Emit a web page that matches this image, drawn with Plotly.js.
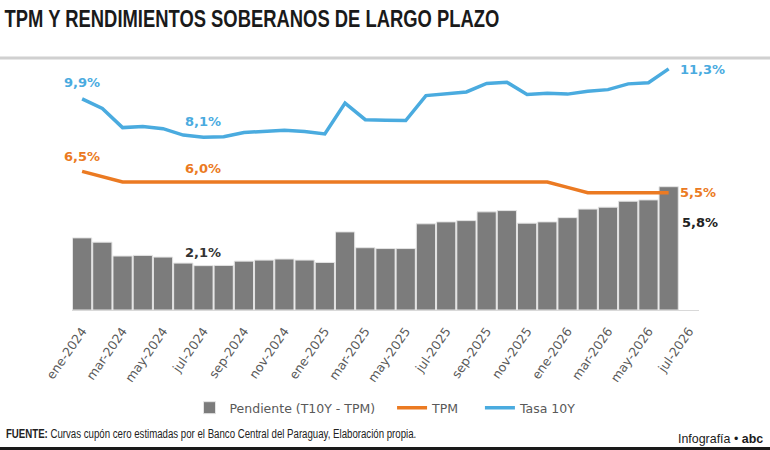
<!DOCTYPE html>
<html>
<head>
<meta charset="utf-8">
<script src="https://cdn.plot.ly/plotly-3.0.1.min.js"></script>
<style>
  body { margin: 0; background: #ffffff; }
  #chart { width: 770px; height: 450px; }
</style>
</head>
<body>
<div id="chart"></div>
<script>
// ###################### DATA ######################

// months ene-2024 .. jul-2026 (the last month has no data)
const months = ["ene-2024","feb-2024","mar-2024","abr-2024","may-2024","jun-2024","jul-2024","ago-2024","sep-2024","oct-2024","nov-2024","dic-2024",
                "ene-2025","feb-2025","mar-2025","abr-2025","may-2025","jun-2025","jul-2025","ago-2025","sep-2025","oct-2025","nov-2025","dic-2025",
                "ene-2026","feb-2026","mar-2026","abr-2026","may-2026","jun-2026","jul-2026"];

const tickMonths = ["ene-2024","mar-2024","may-2024","jul-2024","sep-2024","nov-2024","ene-2025","mar-2025","may-2025",
                    "jul-2025","sep-2025","nov-2025","ene-2026","mar-2026","may-2026","jul-2026"];

const tasa10y = [9.9, 9.45, 8.55, 8.6, 8.5, 8.2, 8.1, 8.12, 8.32, 8.37, 8.42, 8.37, 8.25, 9.7, 8.92,
                 8.9, 8.88, 10.05, 10.13, 10.22, 10.62, 10.68, 10.1, 10.16, 10.12, 10.25, 10.33, 10.6, 10.65, 11.3];

const tpm = [6.5, 6.25, 6.0, 6.0, 6.0, 6.0, 6.0, 6.0, 6.0, 6.0, 6.0, 6.0, 6.0, 6.0, 6.0,
             6.0, 6.0, 6.0, 6.0, 6.0, 6.0, 6.0, 6.0, 6.0, 5.75, 5.5, 5.5, 5.5, 5.5, 5.5];

const pendiente = [3.38, 3.18, 2.53, 2.56, 2.48, 2.2, 2.08, 2.09, 2.29, 2.34, 2.39, 2.34, 2.23, 3.66, 2.92,
                   2.88, 2.88, 4.04, 4.13, 4.19, 4.6, 4.66, 4.07, 4.13, 4.33, 4.73, 4.82, 5.1, 5.16, 5.78];

const dataMonths = months.slice(0, pendiente.length);

// ###################### GRAPH ######################

const blue = "#4aabdf";
const orange = "#eb7a22";
const barGray = "#7c7c7c";
const narrow = "Liberation Sans, Arial, sans-serif";
const NB = "\u00a0";

function drawSpreadGraph(){

    const plotData = [
        { type: "bar", x: dataMonths, y: pendiente, name: "Pendiente (T10Y - TPM)" + NB.repeat(3),
          marker: { color: barGray, line: { color: "#e4e4e4", width: 1 } }, hoverinfo: "skip" },
        { type: "scatter", mode: "lines", x: dataMonths, y: tpm, name: "TPM" + NB.repeat(4),
          line: { color: orange, width: 3.5 } },
        { type: "scatter", mode: "lines", x: dataMonths, y: tasa10y, name: "Tasa 10Y",
          line: { color: blue, width: 3.5 } },
        // empty trace so the axis keeps the last month
        { type: "scatter", mode: "lines", x: months, y: months.map(() => null), showlegend: false, hoverinfo: "skip" },
    ];

    const last = dataMonths.length - 1;
    const lbl = (text, x, y, color, opts) => Object.assign({
        text: text, x: x, y: y, xref: "x", yref: "y", showarrow: false,
        font: { family: "DejaVu Sans", size: 13, color: color, weight: "bold" }
    }, opts || {});

    const plotLayout = {
        width: 770,
        height: 450,
        paper_bgcolor: "#ffffff",
        plot_bgcolor: "#ffffff",
        font: { family: "DejaVu Sans", size: 11, color: "#595959" },
        margin: { t: 54, b: 140, l: 72, r: 71 },
        bargap: 0.05,
        title: {
            text: "<b>TPM Y RENDIMIENTOS SOBERANOS DE LARGO PLAZO</b>",
            x: 0.006, xanchor: "left", xref: "container",
            y: 0.958, yanchor: "middle", yref: "container",
            font: { family: narrow, size: 24, color: "#1a1a1a" }
        },
        xaxis: {
            type: "category",
            categoryorder: "array",
            categoryarray: months,
            range: [-0.5, months.length - 0.5],
            tickmode: "array",
            tickvals: tickMonths,
            ticktext: tickMonths,
            tickangle: -55,
            tickfont: { family: "DejaVu Sans", size: 12.5, color: "#595959" },
            ticks: "",
            ticklabelstandoff: 8,
            showline: true,
            linecolor: "#d9d9d9",
            linewidth: 1,
            showgrid: false,
            zeroline: false,
            fixedrange: true
        },
        yaxis: { visible: false, range: [0, 12], fixedrange: true },
        showlegend: true,
        legend: {
            // centred under the month labels
            orientation: "h",
            x: 0.5, xanchor: "center",
            y: -0.383, yanchor: "middle",
            font: { family: "DejaVu Sans", size: 12.5, color: "#595959" },
            itemwidth: 30,
            traceorder: "normal"
        },
        shapes: [
            { type: "line", xref: "paper", yref: "paper", x0: -0.12, x1: 1.12, y0: 0.984, y1: 0.984,
              line: { color: "#d0d0d0", width: 3 } },
            { type: "line", xref: "paper", yref: "paper", x0: -0.12, x1: 1.12, y0: -0.541, y1: -0.541,
              line: { color: "#1a1a1a", width: 3 } },
        ],
        annotations: [
            lbl("9,9%", dataMonths[0], tasa10y[0], blue, { yshift: 16 }),
            lbl("8,1%", dataMonths[6], tasa10y[6], blue, { yshift: 16 }),
            lbl("11,3%", dataMonths[last], tasa10y[last], blue, { xanchor: "left", xshift: 9, yshift: -1 }),
            lbl("6,5%", dataMonths[0], tpm[0], orange, { yshift: 15 }),
            lbl("6,0%", dataMonths[6], tpm[6], orange, { yshift: 14 }),
            lbl("5,5%", dataMonths[last], tpm[last], orange, { xanchor: "left", xshift: 9, yshift: 0 }),
            lbl("2,1%", dataMonths[6], pendiente[6], "#333333", { yshift: 13 }),
            lbl("5,8%", dataMonths[last], pendiente[last], "#222222", { xanchor: "left", xshift: 11, yshift: -36 }),
            { text: "<b>FUENTE:</b> Curvas cupón cero estimadas por el Banco Central del Paraguay, Elaboración propia.",
              xref: "paper", yref: "paper", x: -0.109, y: -0.484, xanchor: "left", yanchor: "middle", showarrow: false,
              font: { family: narrow, size: 12.5, color: "#222222" } },
            { text: "Infografía • <b>abc</b>",
              xref: "paper", yref: "paper", x: 1.106, y: -0.503, xanchor: "right", yanchor: "middle", showarrow: false,
              font: { family: narrow, size: 13, color: "#1a1a1a" } },
        ]
    };

    const plotConfig = {
        staticPlot: true,
        responsive: false,
    };

    return Plotly.newPlot("chart", plotData, plotLayout, plotConfig);

}

// the original uses a condensed face; squeeze these texts to the same width
function squeeze(group, targetWidth, anchorRight){
    if (!group) return;
    const box = group.getBBox();
    const ox = anchorRight ? box.x + box.width : box.x;
    const oy = box.y + box.height / 2;
    group.style.transformOrigin = ox + "px " + oy + "px";
    group.style.transform = "scaleX(" + (targetWidth / box.width) + ")";
}

drawSpreadGraph().then(gd => {
    squeeze(gd.querySelector(".g-gtitle"), 495, false);
    gd.querySelectorAll(".annotation").forEach(a => {
        const t = a.textContent;
        if (t.startsWith("FUENTE")) squeeze(a, 413, false);
        if (t.startsWith("Infograf")) squeeze(a, 88, true);
    });
});
</script>
</body>
</html>
